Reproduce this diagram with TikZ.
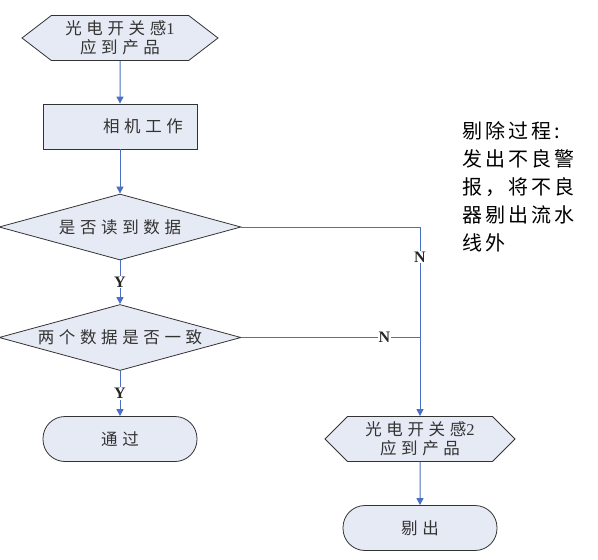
\documentclass[tikz,border=0pt]{standalone}
\usepackage{fontspec}
\setmainfont{Liberation Serif}
\newfontfamily\cjk[LetterSpace=28]{Noto Sans CJK SC}
\newfontfamily\cjknote[LetterSpace=15]{Noto Sans CJK SC}
\usetikzlibrary{positioning,arrows.meta,shapes.geometric,shapes.symbols}
\definecolor{boxfill}{HTML}{E6EAF5}
\definecolor{flowblue}{HTML}{4A70C2}
\definecolor{textgray}{HTML}{333333}

\begin{document}
\begin{tikzpicture}[x=1pt,y=1pt,on grid,
    >={Triangle[width=7pt,length=7pt]},
    base/.style={draw=black!80,fill=boxfill,line width=0.8pt,text=textgray,
        font=\fontsize{16.5}{19}\selectfont\cjk,align=center,inner sep=2pt},
    sensor/.style={base,signal,signal to=west and east,
        minimum width=#1,minimum height=45pt},
    work/.style={base,rectangle,minimum height=45pt,text width=126pt,
        inner xsep=14pt,align=right},
    check/.style={base,diamond,aspect=3.67,minimum width=242pt,
        minimum height=66pt,inner sep=0pt},
    term/.style={base,rectangle,rounded corners=22pt,minimum width=154pt,
        minimum height=45pt},
    flow/.style={flowblue,line width=1pt},
    lbl/.style={fill=white,text=black!85,inner sep=1pt,font=\fontsize{16}{16}\selectfont\bfseries}]
   \useasboundingbox (0,0) rectangle (598,-560);
   % left column
   \node[sensor=196pt,signal pointer angle=75] (s1) at (120,-38)
        {光电开关感{\rmfamily 1}\\应到产品};
   \node[work]  (cam)  [below=88.5pt of s1]  {相机工作};
   \node[check] (read) [below=100.5pt of cam] {是否读到数据};
   \node[check] (same) [below=110.5pt of read] {两个数据是否一致};
   \node[term]  (pass) [below=101.5pt of same] {通过};
   % right column
   \node[sensor=190pt,signal pointer angle=90] (s2) [right=300pt of pass]
        {光电开关感{\rmfamily 2}\\应到产品};
   \node[term]  (out)  [below=89pt of s2]  {剔出};
   \node[anchor=north west,inner sep=0pt,align=left,
        font=\fontsize{20}{28}\selectfont\cjknote] (note) at (462,-121)
        {剔除过程:\\发出不良警\\报，将不良\\器剔出流水\\线外};

   \draw[flow,->] (s1) -- (cam);
   \draw[flow,->] (cam) -- (read);
   \draw[flow,->] (read) -- node[lbl]{Y} (same);
   \draw[flow,->] (same) -- node[lbl]{Y} (pass);
   \draw[flow,->] (read.east) -- (read.east -| s2.north)
        -- node[lbl,pos=0.16]{N} (s2.north);
   \draw[flow] (same.east) -- node[lbl,pos=0.8]{N} (same.east -| s2.north);
   \draw[flow,->] (s2) -- (out);
\end{tikzpicture}
\end{document}
